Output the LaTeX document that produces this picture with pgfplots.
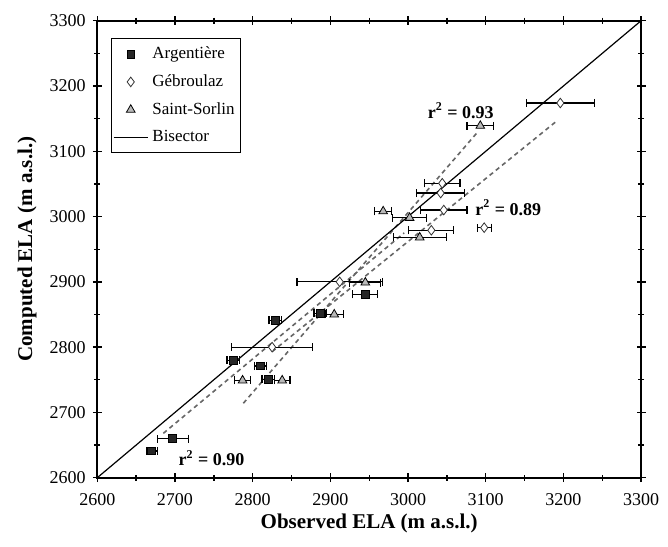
\documentclass[border=0pt]{standalone}
\usepackage{fontspec}
\setmainfont{Liberation Serif}
\usepackage{pgfplots}
\pgfplotsset{compat=1.18}
\usepackage{pgfplotstable}

% observed ELA, computed ELA, error on observed
\pgfplotstableread{
x y ex
2670 2641 7
2697 2660 20
2775 2780 8
2810 2771 8
2820 2751 8
2829 2841 8
2887 2852 8
2945 2881 16
}\argentiere

\pgfplotstableread{
x y ex
2825 2800 52
2912 2900 55
3030 2979 29
3046 3010 30
3042 3036 31
3044 3051 23
3098 2983 9
3196 3174 44
}\gebroulaz

\pgfplotstableread{
x y ex
2787 2749 10
2838 2749 10
2905 2850 12
2945 2899 20
2968 3008 11
3002 2998 22
3015 2968 34
3093 3139 17
}\stsorlin

\begin{document}
\begin{tikzpicture}
\path[use as bounding box] (-48.65pt,-34.15pt) rectangle (285.35pt,238.85pt);
\begin{axis}[
    at={(0,0)}, anchor=south west,
    scale only axis, width=271.9pt, height=228.5pt,
    xmin=2600, xmax=3300, ymin=2600, ymax=3300,
    xtick distance=100, ytick distance=100, minor tick num=1,
    tick align=center, major tick length=4.5pt, minor tick length=3pt,
    axis line style={line width=0.9pt},
    every tick/.style={black, line width=0.7pt},
    /pgf/number format/.cd, 1000 sep={}, assume math mode=true, /pgfplots/.cd,
    tick label style={font=\fontsize{9}{10}\selectfont},
    xticklabel style={yshift=-2pt},
    xlabel={\bfseries Observed ELA (m a.s.l.)},
    ylabel={\bfseries Computed ELA (m a.s.l.)},
    label style={font=\fontsize{10.5}{12}\selectfont},
    xlabel style={at={(axis description cs:0.5,-0.1007)}, anchor=center},
    ylabel style={at={(axis description cs:-0.1293,0.5)}, anchor=center},
    legend cell align=left,
    legend style={at={(0.0246,0.9615)}, anchor=north west, draw=black,
        font=\fontsize{8.5}{10}\selectfont, row sep=2.5pt, inner xsep=1pt},
    error bars/error mark options={rotate=90, black, mark size=2pt, line width=0.6pt},
]
    % regression lines
    \addplot[forget plot, black!60, line width=0.8pt, dash pattern=on 2.2pt off 1.8pt]
        coordinates {(2685,2668) (2995,2975)};
    \addplot[forget plot, black!60, line width=0.8pt, dash pattern=on 2.2pt off 1.8pt]
        coordinates {(2788,2714) (3090,3130)};
    \addplot[forget plot, black!60, line width=0.8pt, dash pattern=on 2.2pt off 1.8pt]
        coordinates {(2825,2793) (3190,3145)};

    \addplot[only marks, mark=square*, mark size=1.9pt,
        mark options={fill=black!85, draw=black},
        error bars/.cd, x dir=both, x explicit,
        error bar style={black, line width=0.6pt}]
        table[x=x, y=y, x error=ex] {\argentiere};
    \addlegendentry{Argentière}

    \addplot[only marks, mark=diamond*, mark size=2.4pt,
        mark options={fill=white, draw=black!80},
        error bars/.cd, x dir=both, x explicit,
        error bar style={black, line width=0.6pt}]
        table[x=x, y=y, x error=ex] {\gebroulaz};
    \addlegendentry{Gébroulaz}

    \addplot[only marks, mark=triangle*, mark size=2.5pt,
        mark options={fill=gray!55, draw=black},
        error bars/.cd, x dir=both, x explicit,
        error bar style={black, line width=0.6pt}]
        table[x=x, y=y, x error=ex] {\stsorlin};
    \addlegendentry{Saint-Sorlin}

    \addplot[black, line width=0.6pt] coordinates {(2600,2600) (3300,3300)};
    \addlegendentry{Bisector}

    \node[font=\bfseries\fontsize{9}{10}\selectfont] at (axis cs:3068,3162) {r\textsuperscript{2} = 0.93};
    \node[font=\bfseries\fontsize{9}{10}\selectfont] at (axis cs:3129,3014) {r\textsuperscript{2} = 0.89};
    \node[font=\bfseries\fontsize{9}{10}\selectfont] at (axis cs:2747,2630) {r\textsuperscript{2} = 0.90};
\end{axis}
\end{tikzpicture}
\end{document}
